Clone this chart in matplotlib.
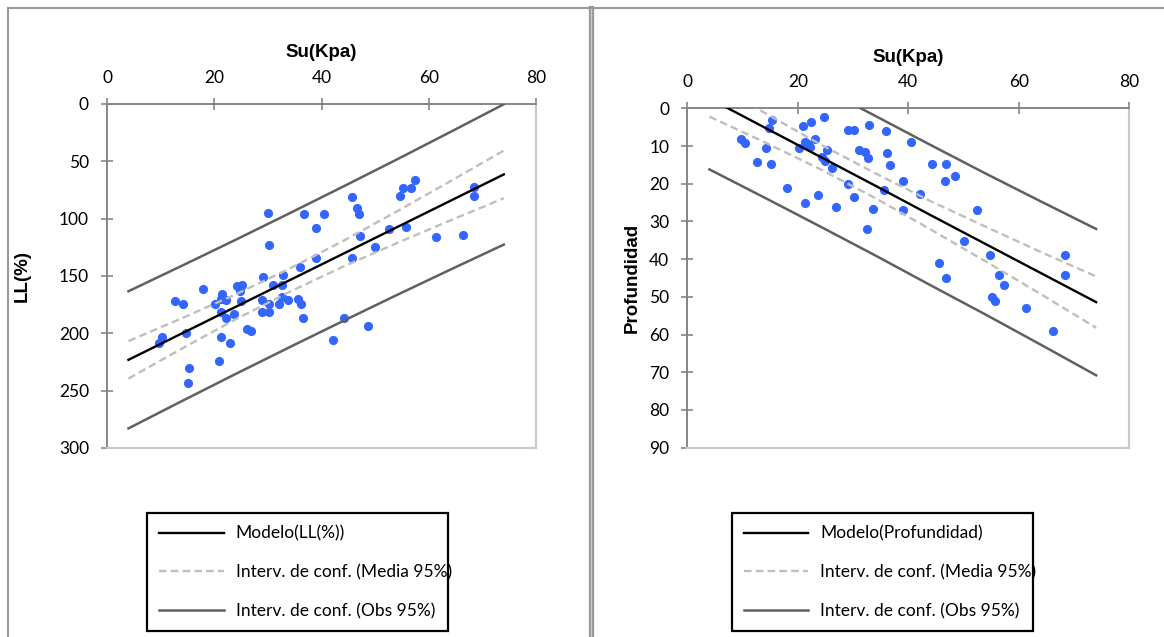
import numpy as np
import matplotlib
matplotlib.use('Agg')
import matplotlib.pyplot as plt
from matplotlib.lines import Line2D

plt.rcParams['font.family'] = ['Lato', 'DejaVu Sans']

# Left chart: LL(%) vs Su
su_ll = [9.7, 10.2, 12.7, 14.1, 14.7, 15.2, 15.1, 17.9, 20.1, 21.4, 21.2, 22.2, 21.2, 22.1, 21.3,
         20.9, 22.9, 23.6, 24.2, 25.1, 24.8, 25.0, 26.1, 26.9, 29.0, 28.9, 28.9, 30.1, 30.2, 30.2,
         30.2, 30.9, 32.1, 32.6, 32.6, 32.8, 33.7, 35.6, 36.1, 36.5, 35.9, 36.8, 39.0, 39.0, 40.4,
         42.2, 44.2, 45.6, 45.6, 46.6, 46.9, 47.1, 48.6, 50.0, 52.5, 54.7, 55.2, 55.8, 56.6, 57.5,
         61.4, 66.4, 68.4, 68.4]
ll = [208, 203, 172, 174, 200, 230, 243, 161, 174, 166, 170, 171, 181, 187, 203,
      224, 208, 183, 159, 158, 163, 172, 196, 198, 151, 171, 181, 95, 123, 174,
      181, 158, 174, 168, 158, 149, 171, 170, 174, 187, 142, 96, 108, 134, 96,
      206, 187, 81, 134, 91, 96, 115, 194, 125, 109, 80, 73, 107, 73, 66,
      116, 114, 72, 80]

# Right chart: Profundidad vs Su
su_prof = [9.7, 10.4, 12.7, 14.2, 14.7, 15.4, 15.2, 18.0, 20.3, 21.0, 21.3, 21.8, 22.2, 22.4, 23.1,
           21.3, 23.6, 24.3, 25.2, 25.0, 24.8, 26.1, 26.9, 29.0, 30.2, 29.0, 30.2, 31.1, 32.2, 32.7,
           32.8, 32.6, 33.7, 35.6, 36.0, 36.1, 36.7, 39.0, 39.0, 40.4, 42.2, 44.2, 45.5, 46.6, 46.8,
           46.9, 48.5, 50.0, 52.4, 54.7, 55.2, 55.7, 56.5, 57.3, 61.3, 66.2, 68.3, 68.3]
prof = [8.1, 9.1, 14.2, 10.6, 5.3, 3.0, 14.7, 21.1, 10.6, 4.7, 9.0, 9.5, 10.2, 3.7, 8.1,
        25.1, 23.1, 12.9, 11.1, 14.1, 2.2, 15.9, 26.1, 5.8, 5.8, 20.1, 23.6, 11.1, 11.7, 13.1,
        4.5, 32.1, 26.6, 21.7, 6.1, 11.8, 15.0, 19.2, 27.0, 8.9, 22.6, 14.8, 41.1, 19.3, 14.9,
        45.1, 18.0, 35.3, 26.9, 39.0, 50.0, 51.1, 44.2, 46.9, 53.0, 59.1, 39.0, 44.2]

# model and confidence curves read at these Su values
su_grid = [4, 14, 24, 34, 44, 54, 64, 74]
ll_model = [223.1, 200.0, 176.9, 153.8, 130.7, 107.6, 84.5, 61.4]
ll_mean_lo = [206.7, 186.8, 166.0, 143.7, 119.5, 93.8, 67.4, 40.6]
ll_mean_hi = [239.5, 213.2, 187.8, 163.9, 141.9, 121.4, 101.6, 82.2]
ll_obs_lo = [163.3, 141.0, 118.4, 95.4, 72.1, 48.5, 24.5, 0.2]
ll_obs_hi = [282.9, 259.0, 235.4, 212.2, 189.3, 166.7, 144.5, 122.6]

prof_model = [-2.6, 5.1, 12.8, 20.5, 28.3, 36.0, 43.7, 51.4]
prof_mean_lo = [-7.4, 1.2, 9.5, 17.2, 24.6, 31.4, 38.1, 44.6]
prof_mean_hi = [2.2, 9.0, 16.1, 23.8, 32.1, 40.6, 49.3, 58.2]
prof_obs_lo = [-21.4, -13.5, -5.7, 2.0, 9.7, 17.3, 24.7, 32.0]
prof_obs_hi = [16.2, 23.7, 31.3, 39.0, 46.9, 54.7, 62.7, 70.8]

W, H = 1164, 637
fig = plt.figure(figsize=(W / 100, H / 100), dpi=100)

# chart frames
gray = '#9a9a9a'
fig.add_artist(Line2D([7.5 / W, 7.5 / W], [0, 1 - 7.5 / H], color=gray, lw=1.5))
fig.add_artist(Line2D([7.5 / W, 1], [1 - 7.5 / H, 1 - 7.5 / H], color=gray, lw=1.5))
fig.add_artist(Line2D([590.5 / W, 590.5 / W], [0, 1 - 7.5 / H], color=gray, lw=3.8))
fig.add_artist(Line2D([590.5 / W, 590.5 / W], [0, 1 - 8.5 / H], color='#cfcfcf', lw=0.8))

ax1 = fig.add_axes([107 / W, 1 - 448 / H, 429 / W, 344 / H])
ax2 = fig.add_axes([687.3 / W, 1 - 447.7 / H, 442 / W, 339.4 / H])

blue = '#3366ff'
panels = [
    (ax1, su_ll, ll, ll_model, ll_mean_lo, ll_mean_hi, ll_obs_lo, ll_obs_hi,
     'LL(%)', 'Modelo(LL(%))', 300, 50, -0.198, 0.1265),
    (ax2, su_prof, prof, prof_model, prof_mean_lo, prof_mean_hi, prof_obs_lo, prof_obs_hi,
     'Profundidad', 'Modelo(Profundidad)', 90, 10, -0.125, 0.6286),
]

for ax, xs, ys, mod, mlo, mhi, olo, ohi, ylab, modlab, ymax, ystep, ylx, legx in panels:
    ax.plot(xs, ys, 'o', color=blue, ms=6.6, mec='none', zorder=2)
    h1, = ax.plot(su_grid, mod, color='black', lw=1.7, zorder=4)
    h2, = ax.plot(su_grid, mlo, color='#bfbfbf', lw=1.7, dashes=(3.2, 1.8), zorder=3)
    ax.plot(su_grid, mhi, color='#bfbfbf', lw=1.7, dashes=(3.2, 1.8), zorder=3)
    h3, = ax.plot(su_grid, olo, color='#606060', lw=1.8, zorder=3)
    ax.plot(su_grid, ohi, color='#606060', lw=1.8, zorder=3)

    ax.set_xlim(0, 80)
    ax.set_ylim(ymax, 0)
    ax.set_xticks(range(0, 81, 20))
    ax.set_yticks(range(0, ymax + 1, ystep))
    ax.xaxis.tick_top()
    ax.xaxis.set_label_position('top')
    ax.tick_params(direction='inout', length=8, width=1.2, color='#868686',
                   labelsize=12.5, pad=9)
    for s in ['top', 'left']:
        ax.spines[s].set_color('#868686')
        ax.spines[s].set_linewidth(1.4)
    for s in ['right', 'bottom']:
        ax.spines[s].set_color('#cacaca')
        ax.spines[s].set_linewidth(1.6)

    ax.set_xlabel('Su(Kpa)', family='Liberation Sans', fontweight='bold', fontsize=13.5, va='center')
    ax.xaxis.set_label_coords(0.5, 1.151)
    ax.set_ylabel(ylab, family='Liberation Sans', fontweight='bold', fontsize=13.5, va='center')
    ax.yaxis.set_label_coords(ylx, 0.5)

    leg = ax.legend([h1, h2, h3], [modlab, 'Interv. de conf. (Media 95%)', 'Interv. de conf. (Obs 95%)'],
                    loc='upper left', bbox_to_anchor=(legx, 0.0, 0.2586, 1 - 513.3 / H),
                    bbox_transform=fig.transFigure, mode='expand', borderaxespad=0,
                    fontsize=12.5, handlelength=3.7, handletextpad=0.7, labelspacing=1.3,
                    borderpad=0.7, fancybox=False, framealpha=1, edgecolor='black')
    leg.get_frame().set_linewidth(1.6)

fig.savefig('out.png', dpi=100)
